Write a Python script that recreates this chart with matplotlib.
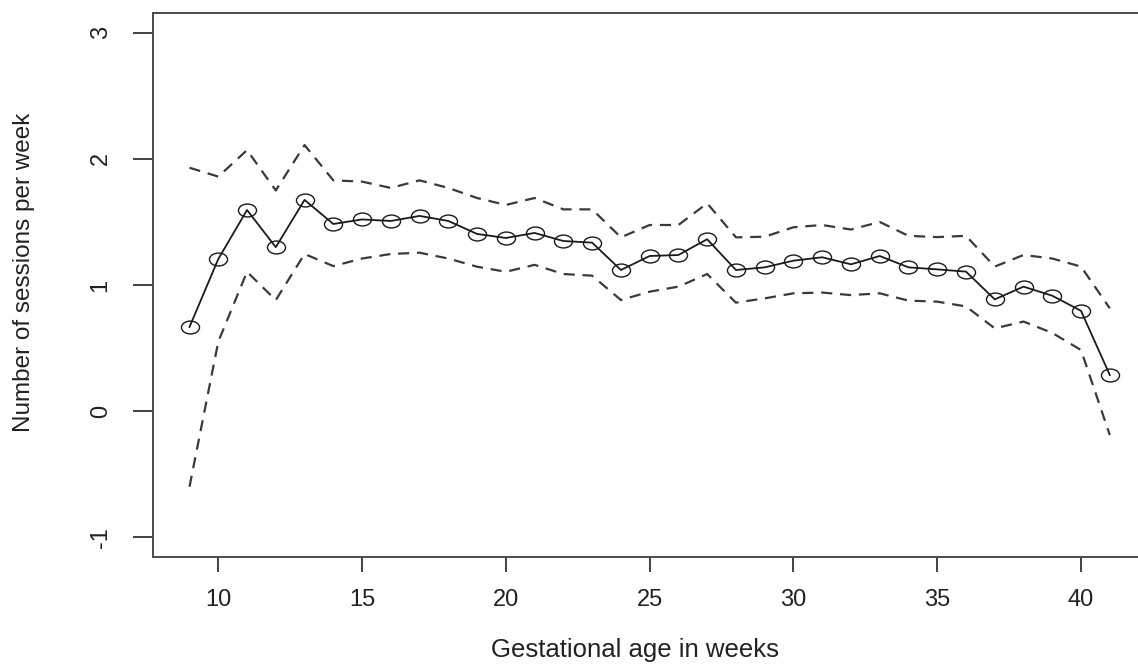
import numpy as np
import matplotlib
matplotlib.use("Agg")
import matplotlib.pyplot as plt
from matplotlib.path import Path
from matplotlib.transforms import Affine2D

plt.rcParams['font.family'] = ['Liberation Sans', 'DejaVu Sans']
plt.rcParams['axes.unicode_minus'] = False

# gestational week and estimated sessions per week with 95% band
weeks = np.arange(9, 42)
mean_sessions = [0.667, 1.206, 1.595, 1.30, 1.675, 1.484, 1.52, 1.508, 1.548, 1.508,
                 1.405, 1.373, 1.413, 1.349, 1.336, 1.119, 1.23, 1.238, 1.363, 1.119,
                 1.14, 1.193, 1.22, 1.164, 1.23, 1.14, 1.124, 1.106, 0.886, 0.987,
                 0.915, 0.795, 0.286]
upper_ci = [1.93, 1.86, 2.07, 1.75, 2.11, 1.83, 1.82, 1.77, 1.83, 1.77,
            1.69, 1.635, 1.69, 1.60, 1.60, 1.378, 1.476, 1.476, 1.648, 1.378,
            1.383, 1.458, 1.476, 1.44, 1.50, 1.39, 1.38, 1.39, 1.146, 1.238,
            1.21, 1.146, 0.815]
lower_ci = [-0.60, 0.55, 1.105, 0.88, 1.246, 1.15, 1.21, 1.246, 1.256, 1.21,
            1.145, 1.105, 1.16, 1.087, 1.074, 0.881, 0.947, 0.987, 1.087, 0.86,
            0.894, 0.934, 0.94, 0.92, 0.934, 0.876, 0.868, 0.83, 0.656, 0.71,
            0.62, 0.484, -0.19]

x_ticks = [10, 15, 20, 25, 30, 35, 40]
y_ticks = [-1, 0, 1, 2, 3]

W, H = 1138, 664
# plot region in pixels (right side runs past the canvas)
left, right, top, bottom = 152.7, 1146.6, 12.7, 557.3

fig = plt.figure(figsize=(W / 100, H / 100), dpi=100)
ax = fig.add_axes([left / W, 1 - bottom / H, (right - left) / W, (bottom - top) / H])

# slightly wide open circle
ell = Path.unit_circle().transformed(Affine2D().scale(1.4, 1.0))

ax.plot(weeks, mean_sessions, color='#1a1a1a', lw=1.3, marker=ell, markersize=13,
        fillstyle='none', markeredgewidth=1.0, markeredgecolor='#1a1a1a')
ax.plot(weeks, upper_ci, color='#3a3a3a', lw=1.6, ls=(0, (5, 3.5)))
ax.plot(weeks, lower_ci, color='#3a3a3a', lw=1.6, ls=(0, (5, 3.5)))

ax.set_xlim(7.72, 42.28)
ax.set_ylim(-1.16, 3.16)
ax.set_xticks(x_ticks)
ax.set_yticks(y_ticks)
ax.tick_params(direction='out', width=1.2, colors='#222222', labelsize=17)
ax.tick_params(axis='x', length=10.5, pad=12)
ax.tick_params(axis='y', length=14.5, pad=15)
for lab in ax.get_yticklabels():
    lab.set_rotation(90)
    lab.set_va('center')
for s in ax.spines.values():
    s.set_color('#4a4a4a')
    s.set_linewidth(1.4)

ax.set_xlabel('Gestational age in weeks', fontsize=18.5, color='#222222')
ax.set_ylabel('Number of sessions per week', fontsize=17.5, color='#222222')
ax.xaxis.label.set_va('center')
ax.yaxis.label.set_va('center')
# axis titles placed by pixel centre
ax.xaxis.set_label_coords((635 - left) / (right - left), (bottom - 650) / (bottom - top))
ax.yaxis.set_label_coords((24 - left) / (right - left), (bottom - 272) / (bottom - top))

fig.savefig('out.png', dpi=100)
